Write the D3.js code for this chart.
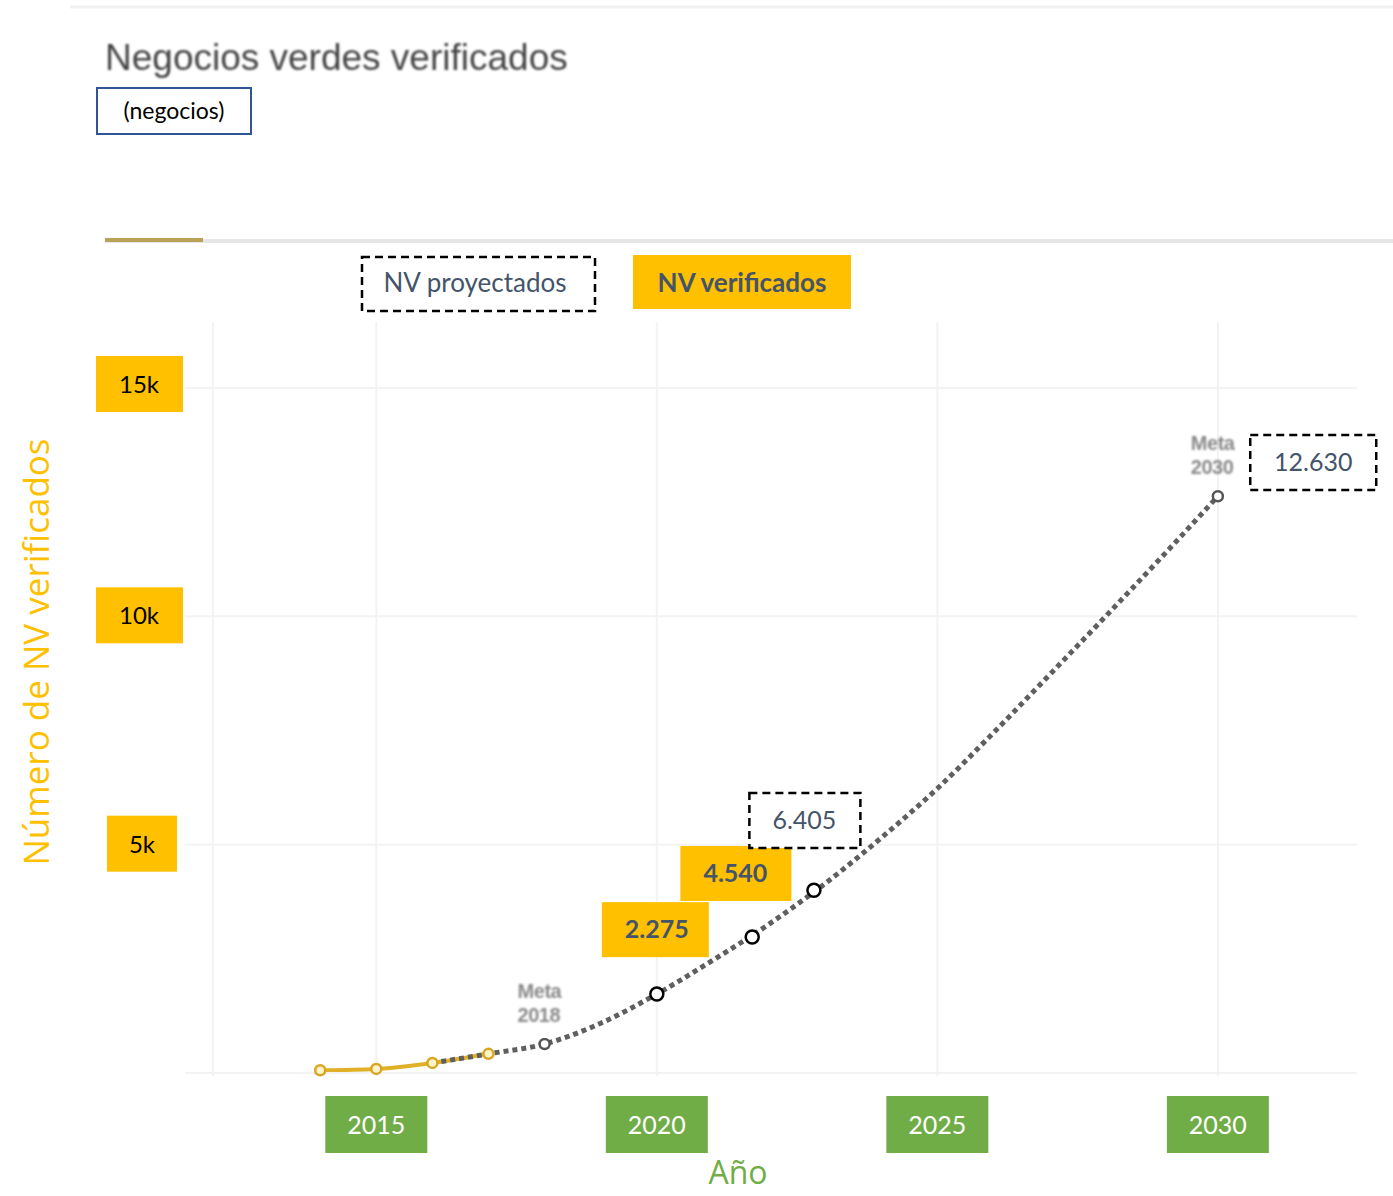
<!DOCTYPE html>
<html>
<head>
<meta charset="utf-8">
<script src="https://cdn.jsdelivr.net/npm/d3@7"></script>
<style>
  body { margin: 0; background: #fff; }
  svg { display: block; }
</style>
</head>
<body>
<svg id="chart" width="1393" height="1196"></svg>
<script>
// verified series (yellow)
var verifiedYears = [2014, 2015, 2016, 2017];
var verifiedValues = [60, 90, 220, 420];

// projected series (dotted grey)
var projYears = [2016, 2017, 2018, 2019, 2020, 2021, 2022, 2023, 2024, 2025, 2026, 2027, 2028, 2029, 2030];
var projValues = [220, 420, 635, 1090, 1730, 2470, 3260, 4150, 5150, 6230, 7450, 8720, 10000, 11300, 12630];

// goals
var metaYears = [2018, 2030];
var metaValues = [635, 12630];
var metaLabels = ["Meta 2018", "Meta 2030"];

// black markers put over the projection
var markYears = [2020, 2021.7, 2022.8];
var markValues = [1730, 2980, 4000];

// value call-outs
var calloutText = ["2.275", "4.540", "6.405", "12.630"];
var calloutYears = [2020, 2021.4, 2022.63, 2031.7];
var calloutAt = [3150, 4380, 5540, 13380];
var calloutKind = ["fill", "fill", "dash", "dash"];

var xTicks = [2015, 2020, 2025, 2030];
var yTicks = [5000, 10000, 15000];
var yTickLabels = ["5k", "10k", "15k"];

var svg = d3.select("#chart");
var boxFont = "Lato, 'Open Sans', sans-serif";
var slate = "#44546a";

var x = d3.scaleLinear().domain([2012, 2032.48]).range([208, 1357]);
var y = d3.scaleLinear().domain([0, 15000]).range([1073, 388]);

var defs = svg.append("defs");
defs.append("filter").attr("id", "soft")
  .append("feGaussianBlur").attr("stdDeviation", 0.9);
defs.append("filter").attr("id", "soft2")
  .append("feGaussianBlur").attr("stdDeviation", 0.6);

// top faint frame line
svg.append("line").attr("x1", 70).attr("x2", 1393).attr("y1", 7).attr("y2", 7)
  .attr("stroke", "#f1f1f1").attr("stroke-width", 3);

// title
svg.append("text").attr("x", 105).attr("y", 70)
  .attr("font-family", "'Liberation Sans', Arial, sans-serif")
  .attr("font-size", 37)
  .attr("fill", "#444").attr("filter", "url(#soft)")
  .text("Negocios verdes verificados");

// units box
svg.append("rect").attr("x", 97).attr("y", 88).attr("width", 154).attr("height", 46)
  .attr("fill", "#fff").attr("stroke", "#2f5597").attr("stroke-width", 2);
svg.append("text").attr("x", 174).attr("y", 119).attr("text-anchor", "middle")
  .attr("font-family", boxFont).attr("font-size", 23).attr("fill", "#000")
  .text("(negocios)");

// legend track
svg.append("rect").attr("x", 105).attr("y", 239).attr("width", 1288).attr("height", 4)
  .attr("fill", "#e6e6e6").attr("filter", "url(#soft2)");
svg.append("rect").attr("x", 105).attr("y", 238).attr("width", 98).attr("height", 4)
  .attr("fill", "#b9a255").attr("filter", "url(#soft2)");

// legend boxes
svg.append("rect").attr("x", 362).attr("y", 257).attr("width", 233).attr("height", 54)
  .attr("fill", "#fff").attr("stroke", "#000").attr("stroke-width", 2.5)
  .attr("stroke-dasharray", "8,5");
svg.append("text").attr("x", 475).attr("y", 292).attr("text-anchor", "middle")
  .attr("font-family", boxFont).attr("font-size", 26).attr("fill", slate)
  .text("NV proyectados");
svg.append("rect").attr("x", 633).attr("y", 255).attr("width", 218).attr("height", 54)
  .attr("fill", "#ffc000");
svg.append("text").attr("x", 742).attr("y", 292).attr("text-anchor", "middle")
  .attr("font-family", boxFont).attr("font-size", 26).attr("font-weight", "bold")
  .attr("fill", slate).text("NV verificados");

// grid
var grid = svg.append("g").attr("stroke", "#f3f3f3").attr("stroke-width", 2);
grid.selectAll(".gx").data(xTicks).enter().append("line")
  .attr("x1", function(d) { return x(d); }).attr("x2", function(d) { return x(d); })
  .attr("y1", 322).attr("y2", 1076);
grid.append("line").attr("x1", 213).attr("x2", 213).attr("y1", 322).attr("y2", 1076);
grid.selectAll(".gy").data([0].concat(yTicks)).enter().append("line")
  .attr("x1", 185).attr("x2", 1357)
  .attr("y1", function(d) { return y(d); }).attr("y2", function(d) { return y(d); });

// y tick boxes
var yt = svg.append("g").selectAll("g").data(yTicks).enter().append("g")
  .attr("transform", function(d) { return "translate(0," + y(d) + ")"; });
yt.append("rect")
  .attr("x", function(d, i) { return i === 0 ? 107 : 96; })
  .attr("y", function(d, i) { return i === 2 ? -32 : -29; }).attr("height", 56)
  .attr("width", function(d, i) { return i === 0 ? 70 : 87; })
  .attr("fill", "#ffc000");
yt.append("text")
  .attr("x", function(d, i) { return i === 0 ? 142 : 139; })
  .attr("y", function(d, i) { return i === 2 ? 5 : 8; }).attr("text-anchor", "middle")
  .attr("font-family", boxFont).attr("font-size", 24).attr("fill", "#000")
  .text(function(d, i) { return yTickLabels[i]; });

// x tick boxes
var xt = svg.append("g").selectAll("g").data(xTicks).enter().append("g")
  .attr("transform", function(d) { return "translate(" + x(d) + ",0)"; });
xt.append("rect").attr("x", -51).attr("y", 1096).attr("width", 102).attr("height", 57)
  .attr("fill", "#70ad47");
xt.append("text").attr("y", 1134).attr("text-anchor", "middle")
  .attr("font-family", boxFont).attr("font-size", 25).attr("fill", "#fff")
  .text(function(d) { return d; });

// axis titles
svg.append("text").attr("transform", "translate(49,652) rotate(-90)")
  .attr("text-anchor", "middle").attr("font-family", "'Open Sans', sans-serif")
  .attr("font-size", 35).attr("fill", "#ffc000")
  .text("Número de NV verificados");
svg.append("text").attr("x", 738).attr("y", 1184).attr("text-anchor", "middle")
  .attr("font-family", "'Open Sans', sans-serif").attr("font-size", 32)
  .attr("fill", "#70ad47").text("Año");

// lines
var line = d3.line()
  .x(function(d) { return x(d[0]); })
  .y(function(d) { return y(d[1]); })
  .curve(d3.curveMonotoneX);

var verified = d3.zip(verifiedYears, verifiedValues);
var projected = d3.zip(projYears, projValues);

svg.append("path").datum(verified).attr("d", line)
  .attr("fill", "none").attr("stroke", "#e0b126").attr("stroke-width", 4)
  .attr("filter", "url(#soft2)");
svg.append("path").datum(projected).attr("d", line)
  .attr("fill", "none").attr("stroke", "#5f5f5f").attr("stroke-width", 5)
  .attr("stroke-dasharray", "5,4").attr("filter", "url(#soft2)");

svg.append("g").selectAll("circle").data(verified).enter().append("circle")
  .attr("cx", function(d) { return x(d[0]); }).attr("cy", function(d) { return y(d[1]); })
  .attr("r", 5).attr("fill", "#fff3c8").attr("stroke", "#d9a520").attr("stroke-width", 2.5)
  .attr("filter", "url(#soft2)");

// goal points + labels
var metas = d3.zip(metaYears, metaValues, metaLabels);
svg.append("g").selectAll("circle").data(metas).enter().append("circle")
  .attr("cx", function(d) { return x(d[0]); }).attr("cy", function(d) { return y(d[1]); })
  .attr("r", 5).attr("fill", "#fff").attr("stroke", "#555").attr("stroke-width", 2.5)
  .attr("filter", "url(#soft2)");
var mt = svg.append("g").attr("font-family", "'Liberation Sans', Arial, sans-serif")
  .attr("font-size", 20).attr("font-weight", "bold").attr("letter-spacing", -0.5)
  .attr("fill", "#8a8a8a").attr("filter", "url(#soft)")
  .selectAll("g").data(metas).enter().append("g");
mt.append("text")
  .attr("x", function(d) { return x(d[0]) - 27; })
  .attr("y", function(d) { return y(d[1]) - 46; })
  .text(function(d) { return d[2].split(" ")[0]; });
mt.append("text")
  .attr("x", function(d) { return x(d[0]) - 27; })
  .attr("y", function(d) { return y(d[1]) - 22; })
  .text(function(d) { return d[2].split(" ")[1]; });

// black markers
svg.append("g").selectAll("circle").data(d3.zip(markYears, markValues)).enter().append("circle")
  .attr("cx", function(d) { return x(d[0]); }).attr("cy", function(d) { return y(d[1]); })
  .attr("r", 6.5).attr("fill", "#fff").attr("stroke", "#000").attr("stroke-width", 2.5);

// call-outs
var co = svg.append("g").selectAll("g").data(d3.range(calloutText.length)).enter().append("g")
  .attr("transform", function(i) { return "translate(" + x(calloutYears[i]) + "," + y(calloutAt[i]) + ")"; });
co.append("rect")
  .attr("x", function(i) { return i === 3 ? -63 : -55; })
  .attr("y", -27).attr("height", 55)
  .attr("width", function(i) { return i === 3 ? 126 : (i === 0 ? 107 : 111); })
  .attr("fill", function(i) { return calloutKind[i] === "fill" ? "#ffc000" : "#fff"; })
  .attr("stroke", function(i) { return calloutKind[i] === "fill" ? "none" : "#000"; })
  .attr("stroke-width", 2.5).attr("stroke-dasharray", "8,5");
co.append("text").attr("y", 9).attr("text-anchor", "middle")
  .attr("font-family", boxFont).attr("font-size", 25)
  .attr("font-weight", function(i) { return calloutKind[i] === "fill" ? "bold" : "normal"; })
  .attr("fill", slate)
  .text(function(i) { return calloutText[i]; });
</script>
</body>
</html>
